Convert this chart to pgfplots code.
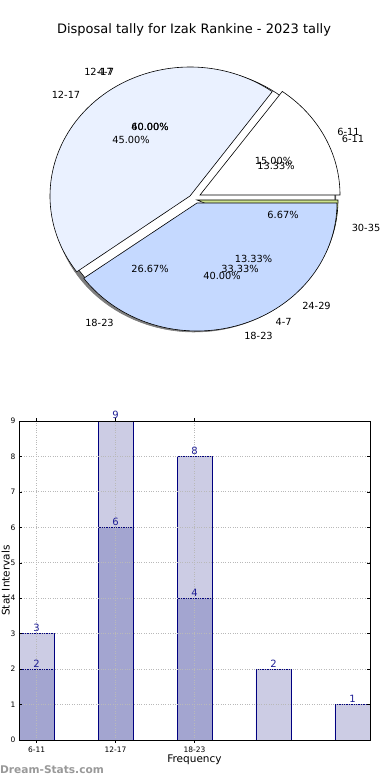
\documentclass[border=0pt]{standalone}
\usepackage{fontspec}
\setmainfont{DejaVu Sans}
\usepackage{pgfplots}
\pgfplotsset{compat=1.18}

\definecolor{pale}{RGB}{234,241,255}
\definecolor{lblue}{RGB}{197,217,255}
\definecolor{lgreen}{RGB}{205,226,140}
\definecolor{shadowgray}{RGB}{125,125,125}
\definecolor{barlight}{RGB}{204,204,228}
\definecolor{bardark}{RGB}{163,165,208}
\definecolor{baredge}{RGB}{0,0,128}
\definecolor{labblue}{RGB}{30,30,150}

% pie slice: cx, cy, rx, ry, start angle, end angle, colour
\newcommand{\pieslice}[7]{%
  \addplot[draw=black, line width=0.6pt, fill=#7, domain=#5:#6, samples=90, variable=\t]
    ({#1+#3*cos(\t)},{#2+#4*sin(\t)}) -- (axis cs:#1,#2) -- cycle;}
\newcommand{\piefull}[6]{%
  \addplot[draw=#6, line width=0.6pt, fill=#5, domain=0:360, samples=120, variable=\t]
    ({#1+#3*cos(\t)},{#2+#4*sin(\t)}) -- cycle;}

\begin{document}
\begin{tikzpicture}
\useasboundingbox (0,0) rectangle (390pt,780pt);
% pie A shares (count 3, 9, 8 -> %)
\pgfmathsetmacro{\Aone}{15*3.6}
\pgfmathsetmacro{\Atwo}{(15+45)*3.6}
% pie B last share 6.67 %
\pgfmathsetmacro{\Bfour}{(100-6.67)*3.6}
\begin{axis}[
  at={(0pt,0pt)}, anchor=south west,
  x=1pt, y=1pt, xmin=0, xmax=390, ymin=0, ymax=780,
  enlargelimits=false, hide axis, clip=false,
]
% shadow and underlying pie
\piefull{194.5}{577.5}{141.5}{129.5}{shadowgray}{shadowgray}
\piefull{195}{582}{140}{129}{white}{black}
\pieslice{197}{580}{141}{129}{\Bfour}{360}{lgreen}
% pie A exploded slices
\pieslice{200}{585}{140}{128}{0}{\Aone}{white}
\pieslice{190}{584}{140}{129}{\Aone}{\Atwo}{pale}
\pieslice{197}{577}{140}{128}{\Atwo}{360}{lblue}

\node[font=\fontsize{13}{15}\selectfont] at (axis cs:194,750) {Disposal tally for Izak Rankine - 2023 tally};

\begin{scope}[every node/.style={font=\fontsize{9.8}{11}\selectfont, inner sep=0pt}]
\node at (axis cs:98.5,708) {12-17};
\node at (axis cs:106,708) {4-7};
\node at (axis cs:66,685) {12-17};
\node at (axis cs:150,653) {60.00\%};
\node at (axis cs:150,653) {40.00\%};
\node at (axis cs:131,640) {45.00\%};
\node at (axis cs:348.5,648) {6-11};
\node at (axis cs:353,641) {6-11};
\node at (axis cs:273.5,619) {15.00\%};
\node at (axis cs:276,614) {13.33\%};
\node at (axis cs:283,565) {6.67\%};
\node at (axis cs:366,552) {30-35};
\node at (axis cs:253.5,521) {13.33\%};
\node at (axis cs:240,511) {33.33\%};
\node at (axis cs:222,504) {40.00\%};
\node at (axis cs:150,511) {26.67\%};
\node at (axis cs:99.5,457) {18-23};
\node at (axis cs:316.5,474) {24-29};
\node at (axis cs:283.7,458) {4-7};
\node at (axis cs:258.5,444) {18-23};
\end{scope}
\node[anchor=west, inner sep=0pt, text=gray!80, font=\bfseries\fontsize{10.6}{12}\selectfont] at (axis cs:0,10) {Dream-Stats.com};
\end{axis}

\begin{axis}[
  at={(19pt,40pt)}, anchor=south west,
  width=351pt, height=319pt, scale only axis,
  xmin=-0.222, xmax=4.222, ymin=0, ymax=9,
  xtick={0,1,2}, xticklabels={6-11,12-17,18-23},
  ytick={0,1,...,9},
  tick align=inside, major tick length=3pt,
  tick style={black, line width=0.5pt},
  ticklabel style={font=\fontsize{7.5}{9}\selectfont},
  /pgf/number format/assume math mode=true,
  xmajorgrids, ymajorgrids,
  major grid style={dotted, gray!55, line width=0.9pt},
  axis on top,
  axis line style={black, line width=0.8pt},
  clip=false,
  xlabel={Frequency}, ylabel={Stat Intervals},
  label style={font=\fontsize{10.5}{12}\selectfont},
  xlabel style={at={(axis description cs:0.5,-0.0627)}, anchor=center},
  ylabel style={at={(axis description cs:-0.038,0.5)}, anchor=center},
  ybar, bar width=35pt,
  nodes near coords,
  every node near coord/.append style={text=labblue, font=\fontsize{10}{12}\selectfont, inner sep=1.5pt},
]
\addplot[bar shift=0pt, fill=barlight, draw=baredge, line width=0.8pt]
  coordinates {(0,3) (1,9) (2,8) (3,2) (4,1)};
\addplot[bar shift=0pt, fill=bardark, draw=baredge, line width=0.8pt]
  coordinates {(0,2) (1,6) (2,4)};
\end{axis}
\end{tikzpicture}
\end{document}
